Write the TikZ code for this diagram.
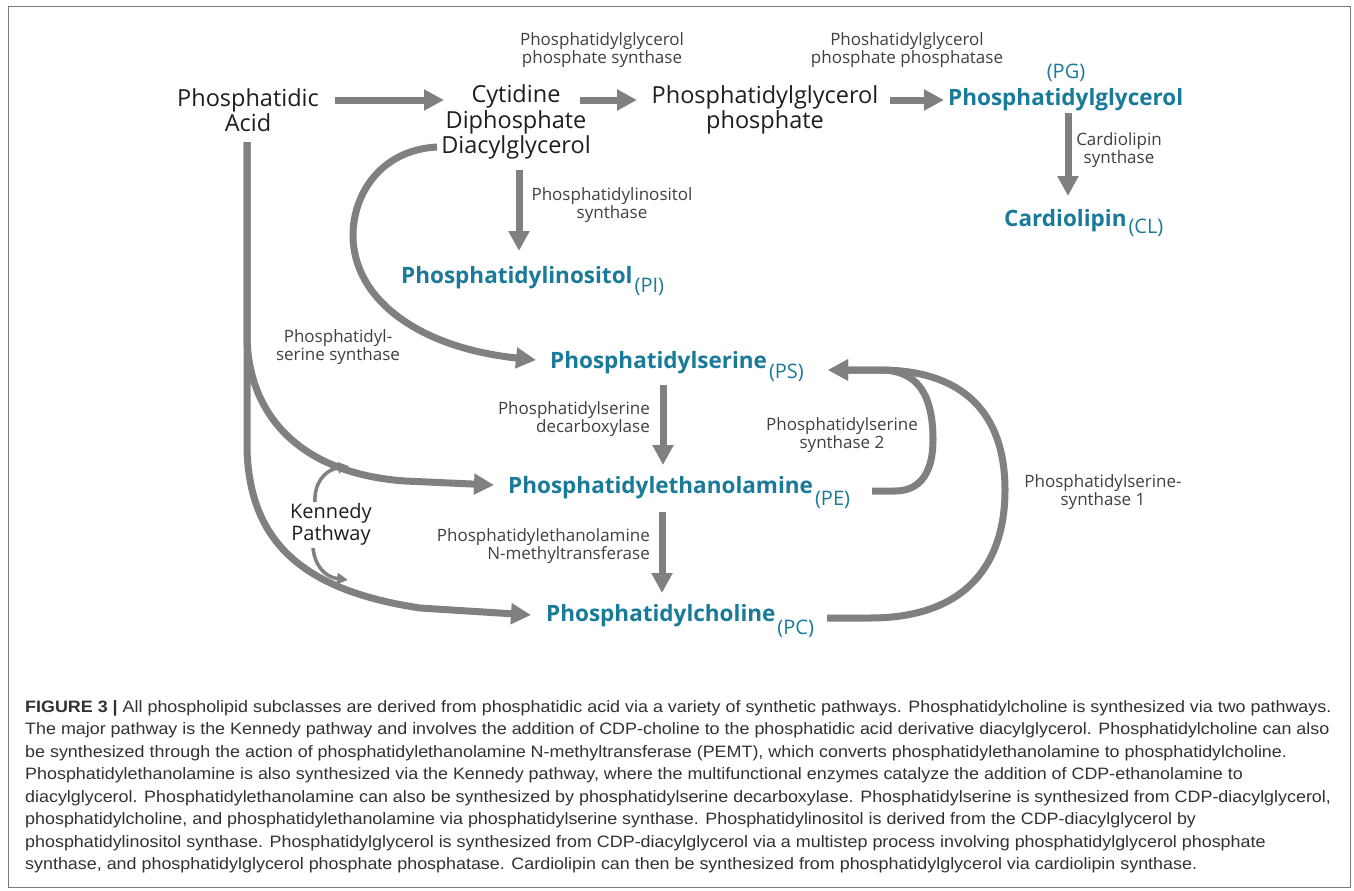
\documentclass[tikz,border=0pt]{standalone}
\usepackage{fontspec}
\setmainfont{Open Sans}
\newfontfamily\capfont[FakeStretch=1.085]{Liberation Sans}
\usetikzlibrary{arrows.meta}
\definecolor{teal2}{RGB}{26,122,153}
\definecolor{agray}{RGB}{128,128,128}
\definecolor{txt}{RGB}{30,30,30}
\definecolor{captxt}{RGB}{50,50,50}
\definecolor{framec}{RGB}{120,120,120}
\newcommand\lipabbr[2]{\hspace{2pt}\raisebox{#1}{\fontsize{20}{20}\selectfont\mdseries #2}}
\begin{document}
\begin{tikzpicture}[x=1pt,y=-1pt,
  main/.style={font=\fontsize{23.5}{25.5}\selectfont, text=txt, align=center, inner sep=0pt},
  enz/.style={font=\fontsize{17}{18.5}\selectfont, text=txt!85, align=center, inner sep=0pt},
  lip/.style={font=\fontsize{22.5}{24}\selectfont\bfseries, text=teal2, inner sep=0pt, anchor=base west},
  flow/.style={draw=agray, line width=7pt, -{Triangle[length=20pt,width=20pt]}},
  kflow/.style={draw=agray, line width=3.5pt, -{Triangle[length=11pt,width=11pt]}},
]
\useasboundingbox (0,0) rectangle (1354,891);
\fill[white] (0,0) rectangle (1354,891);
\draw[framec, line width=1pt] (8,7) rectangle (1350,887);

% main compounds
\node[main] (pa)  at (248,110) {Phosphatidic\\Acid};
\node[main] (cdp) at (516,122) {Cytidine\\Diphosphate\\Diacylglycerol};
\node[main] (pgp) at (765,110) {Phosphatidylglycerol\\phosphate};
\node[lip] (pg) at (948,105) {Phosphatidylglycerol};
\node[font=\fontsize{20}{20}\selectfont, text=teal2, inner sep=0pt] (pgtag) at (1066,73) {(PG)};
\node[lip] (cl) at (1004,226) {Cardiolipin\lipabbr{-7pt}{(CL)}};
\node[lip] (pi) at (401,283) {Phosphatidylinositol\lipabbr{-9pt}{(PI)}};
\node[lip] (ps) at (550,368) {Phosphatidylserine\lipabbr{-10pt}{(PS)}};
\node[lip] (pe) at (508,493) {Phosphatidylethanolamine\lipabbr{-12pt}{(PE)}};
\node[lip] (pc) at (546,621) {Phosphatidylcholine\lipabbr{-13pt}{(PC)}};

% enzyme labels
\node[enz] (lpgps) at (602,50) {Phosphatidylglycerol\\phosphate synthase};
\node[enz] (lpgpp) at (907,50) {Phoshatidylglycerol\\phosphate phosphatase};
\node[enz] (lcls) at (1119,150) {Cardiolipin\\synthase};
\node[enz] (lpis) at (612,205) {Phosphatidylinositol\\synthase};
\node[enz] (lpss) at (338,347) {Phosphatidyl-\\serine synthase};
\node[enz, align=right, anchor=east] (lpsd) at (650,419) {Phosphatidylserine\\decarboxylase};
\node[enz, align=right, anchor=east] (lpemt) at (650,546) {Phosphatidylethanolamine\\N-methyltransferase};
\node[enz] (lps2) at (842,435) {Phosphatidylserine\\synthase 2};
\node[enz] (lps1) at (1103,492) {Phosphatidylserine-\\synthase 1};
\node[font=\fontsize{20}{22}\selectfont, text=txt, align=center, inner sep=0pt] (kp) at (331,524) {Kennedy\\Pathway};

% connector end points
\coordinate (a1s) at (335,100); \coordinate (a1e) at (444,100);
\coordinate (a2s) at (580,100); \coordinate (a2e) at (637,100);
\coordinate (a3s) at (890,100); \coordinate (a3e) at (944,100);
\coordinate (a4s) at (1068,113); \coordinate (a4e) at (1068,196);
\coordinate (a5s) at (519,170); \coordinate (a5e) at (519,251);
\coordinate (a6s) at (437,147); \coordinate (a6e) at (536,360);
\coordinate (a7s) at (663,385); \coordinate (a7e) at (663,465);
\coordinate (a8s) at (662,512); \coordinate (a8e) at (662,593);
\coordinate (pav) at (247,142);
\coordinate (a9e) at (494,485);
\coordinate (a10e) at (531,615);
\coordinate (pstip) at (828,370);
\coordinate (pes) at (872,491);
\coordinate (pcs) at (827,618);
\coordinate (ku) at (349,466); \coordinate (kd) at (348,580);

% straight arrows
\draw[flow] (a1s) -- (a1e);
\draw[flow] (a2s) -- (a2e);
\draw[flow] (a3s) -- (a3e);
\draw[flow] (a4s) -- (a4e);
\draw[flow] (a5s) -- (a5e);
\draw[flow] (a7s) -- (a7e);
\draw[flow] (a8s) -- (a8e);

% CDP-DAG -> PS
\draw[flow] (a6s) .. controls (380,150) and (353,195) .. (353,235)
  .. controls (353,300) and (420,348) .. (a6e);

% PA -> PE and PA -> PC (Kennedy)
\draw[flow] (pav) -- (247,340) .. controls (250,420) and (305,474) .. (405,481) -- (a9e);
\draw[flow] (pav) -- (247,450) .. controls (250,540) and (300,590) .. (420,608) -- (a10e);

% Kennedy small arrows
\draw[kflow] (315,502) .. controls (314,484) and (324,470) .. (ku);
\draw[kflow] (313,548) .. controls (315,566) and (325,577) .. (kd);

% PE -> PS (synthase 2) and PC -> PS (synthase 1)
\draw[flow] (pes) -- (895,491) .. controls (922,491) and (933,470) .. (933,440)
  .. controls (933,395) and (918,370) .. (880,370) -- (pstip);
\draw[flow] (pcs) -- (870,618) .. controls (968,618) and (1005,562) .. (1005,490)
  .. controls (1005,412) and (962,370) .. (880,370) -- (pstip);

% caption
\node[anchor=north west, inner sep=0pt, align=left, text=captxt,
      font=\capfont\fontsize{16.5}{22.5}\selectfont] (cap) at (25,700) {%
{\bfseries FIGURE 3 |} All phospholipid subclasses are derived from phosphatidic acid via a variety of synthetic pathways. Phosphatidylcholine is synthesized via two pathways.\\
The major pathway is the Kennedy pathway and involves the addition of CDP-choline to the phosphatidic acid derivative diacylglycerol. Phosphatidylcholine can also\\
be synthesized through the action of phosphatidylethanolamine N-methyltransferase (PEMT), which converts phosphatidylethanolamine to phosphatidylcholine.\\
Phosphatidylethanolamine is also synthesized via the Kennedy pathway, where the multifunctional enzymes catalyze the addition of CDP-ethanolamine to\\
diacylglycerol. Phosphatidylethanolamine can also be synthesized by phosphatidylserine decarboxylase. Phosphatidylserine is synthesized from CDP-diacylglycerol,\\
phosphatidylcholine, and phosphatidylethanolamine via phosphatidylserine synthase. Phosphatidylinositol is derived from the CDP-diacylglycerol by\\
phosphatidylinositol synthase. Phosphatidylglycerol is synthesized from CDP-diacylglycerol via a multistep process involving phosphatidylglycerol phosphate\\
synthase, and phosphatidylglycerol phosphate phosphatase. Cardiolipin can then be synthesized from phosphatidylglycerol via cardiolipin synthase.};
\end{tikzpicture}
\end{document}
